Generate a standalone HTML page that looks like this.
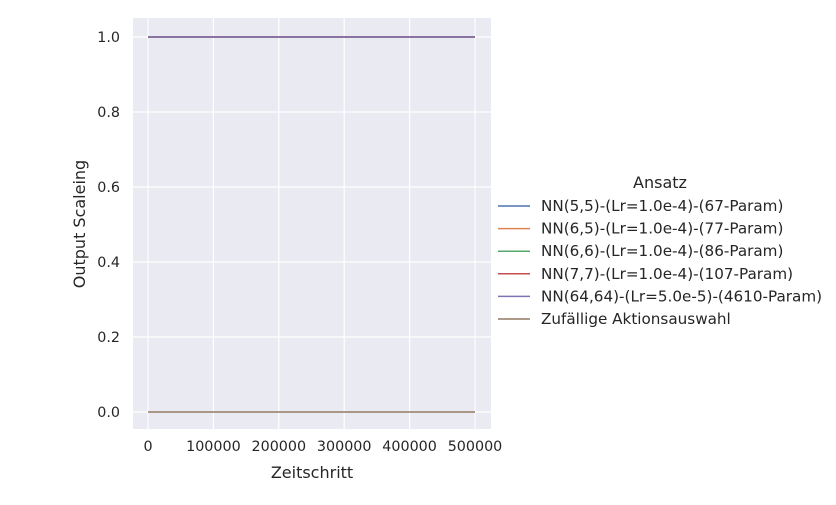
<!DOCTYPE html>
<html><head><meta charset="utf-8"><style>
body{margin:0;background:#fff;font-family:"Liberation Sans","DejaVu Sans",sans-serif;}
svg text{font-family:"DejaVu Sans","Liberation Sans",sans-serif;fill:#262626;}
</style></head><body>
<svg id="chart" width="836" height="500">
<rect x="133" y="18" width="358" height="411" fill="#eaeaf2"/>
<g id="grid"></g><g id="series"></g><g id="ticks"></g>
<text x="312" y="478" font-size="16" text-anchor="middle">Zeitschritt</text>
<text x="85" y="224" font-size="16" text-anchor="middle" transform="rotate(-90 85 224)">Output Scaleing</text>
<g id="legend"></g>
</svg>
<script>
const xTicks=[0,100000,200000,300000,400000,500000];
const yTicks=[0.0,0.2,0.4,0.6,0.8,1.0];
const seriesNames=["NN(5,5)-(Lr=1.0e-4)-(67-Param)","NN(6,5)-(Lr=1.0e-4)-(77-Param)","NN(6,6)-(Lr=1.0e-4)-(86-Param)","NN(7,7)-(Lr=1.0e-4)-(107-Param)","NN(64,64)-(Lr=5.0e-5)-(4610-Param)","Zufällige Aktionsauswahl"];
const seriesColors=["#4c72b0","#dd8452","#55a868","#c44e52","#8172b3","#937860"];
const seriesX=[0,500000];
const seriesY=[[1,1],[1,1],[1,1],[1,1],[1,1],[0,0]];
const NS="http://www.w3.org/2000/svg";
const xs=v=>148+v*(327/500000);
const ys=v=>412-v*375;
function mk(tag,attrs,parent){const e=document.createElementNS(NS,tag);for(const k in attrs)e.setAttribute(k,attrs[k]);parent.appendChild(e);return e;}
const grid=document.getElementById('grid'),ticks=document.getElementById('ticks'),ser=document.getElementById('series'),leg=document.getElementById('legend');
xTicks.forEach(t=>{const l=mk('line',{x1:xs(t),x2:xs(t),y1:18,y2:429,stroke:'#fff','stroke-width':1.2},grid);


const tx=mk('text',{x:xs(t),y:451,'font-size':14.3,'text-anchor':'middle'},ticks);tx.textContent=t;

});
yTicks.forEach(t=>{const l=mk('line',{x1:133,x2:491,y1:ys(t),y2:ys(t),stroke:'#fff','stroke-width':1.2},grid);


const tx=mk('text',{x:120,y:ys(t)+5,'font-size':14.3,'text-anchor':'end'},ticks);tx.textContent=t.toFixed(1);

});
seriesY.forEach((ys_,i)=>{const pts=seriesX.map((x,j)=>xs(x)+','+ys(ys_[j])).join(' ');
const p=mk('polyline',{points:pts,fill:'none',stroke:seriesColors[i],'stroke-width':1.5},ser);

});
const tt=mk('text',{x:660,y:188,'font-size':16,'text-anchor':'middle'},leg);tt.textContent='Ansatz';


seriesNames.forEach((n,i)=>{const y=206+i*22.6;
const l=mk('line',{x1:498,x2:530,y1:y,y2:y,stroke:seriesColors[i],'stroke-width':1.5},leg);


const t=mk('text',{x:541,y:y+5,'font-size':15.2},leg);t.textContent=n;

});
</script>
</body></html>
